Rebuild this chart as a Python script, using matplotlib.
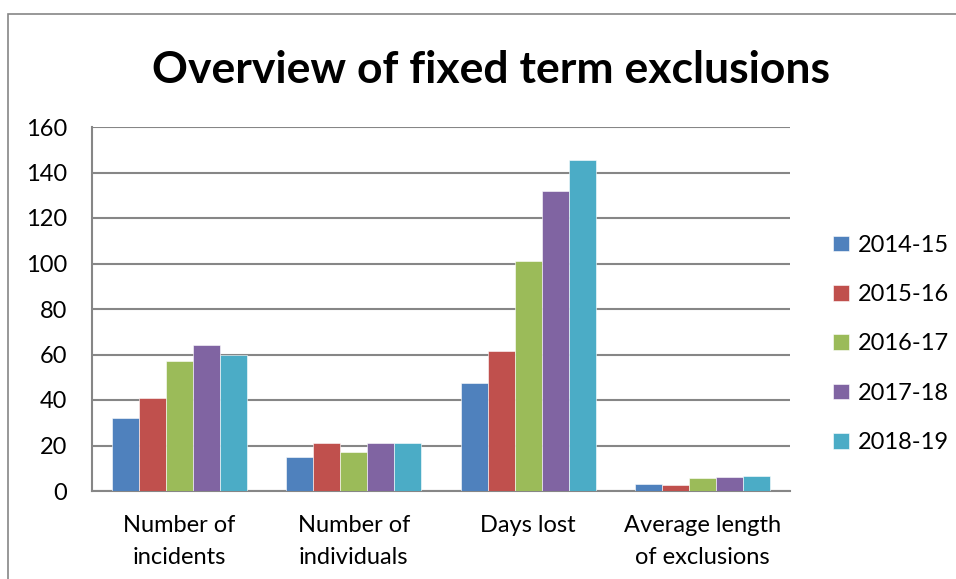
import matplotlib
matplotlib.use("Agg")
import matplotlib.pyplot as plt
import numpy as np
from matplotlib.patches import Rectangle

categories = ["Number of\nincidents", "Number of\nindividuals", "Days lost", "Average length\nof exclusions"]
series_names = ["2014-15", "2015-16", "2016-17", "2017-18", "2018-19"]
values_2014_15 = [32, 15, 47.5, 3.2]
values_2015_16 = [41, 21, 61.5, 2.6]
values_2016_17 = [57, 17, 101, 5.7]
values_2017_18 = [64, 21, 132, 6.2]
values_2018_19 = [60, 21, 145.5, 6.8]
series_values = [values_2014_15, values_2015_16, values_2016_17, values_2017_18, values_2018_19]
colors = ["#4F81BD", "#C0504D", "#9BBB59", "#8064A2", "#4BACC6"]
yticks = [0, 20, 40, 60, 80, 100, 120, 140, 160]

plt.rcParams['font.family'] = ['Lato', 'DejaVu Sans']

W, H = 956, 579
fig = plt.figure(figsize=(W / 100, H / 100), dpi=100)
fig.patch.set_facecolor("white")

# outer chart border
fig.patches.append(Rectangle((8 / W, -0.05), 1.1, 1 - 14 / H + 0.05, transform=fig.transFigure,
                             fill=False, edgecolor="#868686", linewidth=1.2))

ax = fig.add_axes([92 / W, 1 - 491 / H, (790 - 92) / W, (491 - 127) / H])
x = np.arange(len(categories))
bw = 0.155
n = len(series_names)
for i, (name, vals, c) in enumerate(zip(series_names, series_values, colors)):
    ax.bar(x + (i - (n - 1) / 2) * bw, vals, width=bw, color=c, label=name,
           edgecolor="white", linewidth=0.4, zorder=3)

ax.set_xlim(-0.5, len(categories) - 0.5)
ax.set_ylim(0, 160)
ax.set_yticks(yticks)
ax.set_yticklabels([str(v) for v in yticks], fontsize=17)
ax.set_xticks(x)
ax.set_xticklabels(categories, fontsize=17, linespacing=1.65)
ax.tick_params(axis="both", length=0, colors="black")
ax.tick_params(axis="x", pad=17)
ax.tick_params(axis="y", pad=18)
ax.yaxis.grid(True, color="#868686", linewidth=1.5, zorder=0)
for s in ["top", "right"]:
    ax.spines[s].set_visible(False)
for s in ["left", "bottom"]:
    ax.spines[s].set_color("#868686")
    ax.spines[s].set_linewidth(1.5)

fig.text(491 / W, 1 - 70 / H, "Overview of fixed term exclusions", ha="center", va="center",
         fontsize=32, fontweight="bold")

leg = fig.legend(loc="center left", bbox_to_anchor=(812 / W, 1 - 344 / H), frameon=False,
                 fontsize=17, handlelength=0.65, handleheight=0.65, handletextpad=0.4,
                 labelspacing=1.2)

fig.savefig("out.png", dpi=100)
